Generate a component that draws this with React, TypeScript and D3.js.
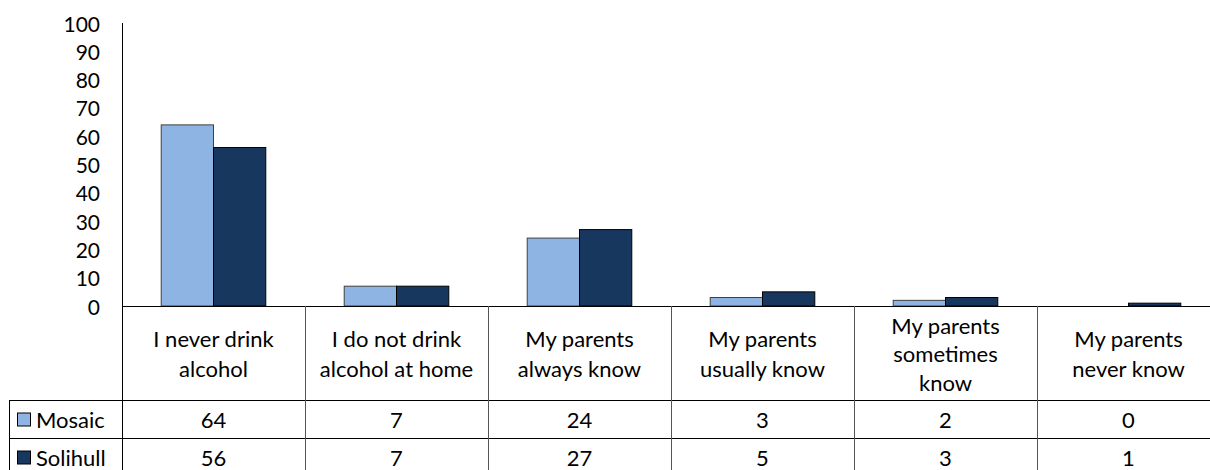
import React from "react";
import * as d3 from "d3";

const categories: string[][] = [
  ["I never drink", "alcohol"],
  ["I do not drink", "alcohol at home"],
  ["My parents", "always know"],
  ["My parents", "usually know"],
  ["My parents", "sometimes", "know"],
  ["My parents", "never know"],
];
const seriesNames = ["Mosaic", "Solihull"];
const mosaic = [64, 7, 24, 3, 2, 0];
const solihull = [56, 7, 27, 5, 3, 1];
const yTicks = [0, 10, 20, 30, 40, 50, 60, 70, 80, 90, 100];

const colors = ["#8EB4E3", "#17375E"];
const strokes = ["#404040", "#000000"];
const FONT = "Lato, 'Open Sans', sans-serif";

export default function App() {
  const W = 1210, H = 470;
  const left = 122, right = 1220;
  const baseY = 306, topY = 23;
  const headerBottom = 400, row1Bottom = 438, row2Bottom = 476;
  const legendLeft = 9;

  const idx = categories.map((_, i) => i);
  const x0 = d3.scaleBand<number>().domain(idx).range([left, right]).paddingInner(0).paddingOuter(0);
  const x1 = d3.scaleBand<string>().domain(seriesNames).range([0, x0.bandwidth()]).paddingInner(0).paddingOuter(0.75);
  const y = d3.scaleLinear().domain([0, 100]).range([baseY, topY]);
  const data = [mosaic, solihull];

  const fs = 22;
  const tfs = 21;
  return (
    <svg width={W} height={H} style={{ position: "absolute", left: 0, top: 0, background: "#fff" }} fontFamily={FONT}>
      <rect x={0} y={0} width={W} height={H} fill="#fff" />
      {/* y tick labels */}
      {yTicks.map((t) => (
        <text key={t} x={100} y={y(t)} textAnchor="end" dominantBaseline="central" fontSize={tfs} fill="#000">
          {t}
        </text>
      ))}
      {/* bars */}
      {data.map((vals, s) =>
        vals.map((v, i) => (
          <rect
            key={`${s}-${i}`}
            x={(x0(i) as number) + (x1(seriesNames[s]) as number)}
            y={y(v)}
            width={x1.bandwidth()}
            height={baseY - y(v)}
            fill={colors[s]}
            stroke={strokes[s]}
            strokeWidth={1}
          />
        ))
      )}
      {/* axis and table lines */}
      <line x1={left + 0.5} x2={left + 0.5} y1={topY} y2={H} stroke="#000" />
      <line x1={left} x2={W} y1={baseY + 0.5} y2={baseY + 0.5} stroke="#000" />
      <line x1={legendLeft} x2={W} y1={headerBottom + 0.5} y2={headerBottom + 0.5} stroke="#000" />
      <line x1={legendLeft} x2={W} y1={row1Bottom + 0.5} y2={row1Bottom + 0.5} stroke="#000" />
      <line x1={legendLeft + 0.5} x2={legendLeft + 0.5} y1={headerBottom} y2={H} stroke="#000" />
      {idx.slice(1).map((i) => (
        <line key={i} x1={(x0(i) as number) + 0.5} x2={(x0(i) as number) + 0.5} y1={baseY} y2={H} stroke="#555" />
      ))}
      {/* category labels */}
      {categories.map((lines, i) => {
        const cx = (x0(i) as number) + x0.bandwidth() / 2;
        const cy = (baseY + headerBottom) / 2 + 0.5;
        const lh = lines.length === 3 ? 28.5 : 30;
        return (
          <text key={i} x={cx} textAnchor="middle" fontSize={fs} fill="#000">
            {lines.map((l, j) => (
              <tspan key={j} x={cx} y={cy + (j - (lines.length - 1) / 2) * lh} dominantBaseline="central">
                {l}
              </tspan>
            ))}
          </text>
        );
      })}
      {/* data rows */}
      {data.map((vals, s) => {
        const rowTop = s === 0 ? headerBottom : row1Bottom;
        const rowBot = s === 0 ? row1Bottom : row2Bottom;
        const cy = (rowTop + rowBot) / 2 + 0.5;
        return (
          <g key={s}>
            <rect x={17.5} y={cy - 6.5} width={13} height={13} fill={colors[s]} stroke="#000" strokeWidth={1} />
            <text x={36} y={cy} dominantBaseline="central" fontSize={fs} fill="#000">
              {seriesNames[s]}
            </text>
            {vals.map((v, i) => (
              <text
                key={i}
                x={(x0(i) as number) + x0.bandwidth() / 2}
                y={cy}
                textAnchor="middle"
                dominantBaseline="central"
                fontSize={fs}
                fill="#000"
              >
                {v}
              </text>
            ))}
          </g>
        );
      })}
    </svg>
  );
}
